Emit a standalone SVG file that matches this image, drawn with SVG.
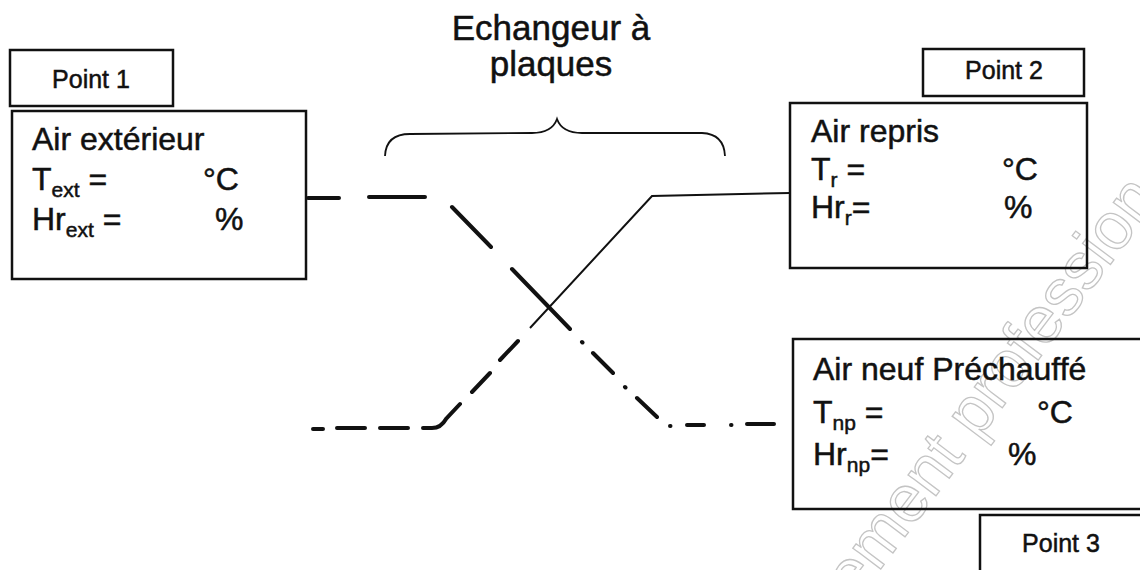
<svg xmlns="http://www.w3.org/2000/svg" width="1140" height="570" viewBox="0 0 1140 570">
  <style>
    text { font-family: "Liberation Sans", Arial, sans-serif; fill: #111; stroke: #111; stroke-width: 0.5; }
    .box { fill: none; stroke: #111; stroke-width: 2.5; }
    .lbl { font-size: 25px; }
    .val { font-size: 32px; }
    .sub { font-size: 21px; }
    .title { font-size: 35px; text-anchor: middle; }
    text.wm { font-size: 66px; fill: none; stroke: #c4c4c4; stroke-width: 1.3; }
    .dash { fill: none; stroke: #111; stroke-width: 4; stroke-linecap: round; }
    .solid { fill: none; stroke: #111; stroke-width: 2; }
    .brace { fill: none; stroke: #111; stroke-width: 1.8; }
  </style>
  <rect width="1140" height="570" fill="#fff"/>

  <!-- faint background stamp -->
  <text class="wm" transform="translate(856 602) rotate(-53)">ement profession</text>

  <!-- heat exchanger caption with brace -->
  <g id="exchanger">
    <text class="title" x="551" y="40">Echangeur à</text>
    <text class="title" x="551" y="76">plaques</text>
    <path class="brace" d="M385,156 Q386,134 410,134 L532,133 Q552,133 557,119 Q562,133 582,133 L702,133 Q724,134 725,156"/>
  </g>

  <!-- point 1 : outside air -->
  <g id="point1">
    <rect class="box" x="10" y="50" width="163" height="56"/>
    <text class="lbl" x="91" y="88" text-anchor="middle">Point 1</text>
  </g>
  <g id="air-exterieur">
    <rect class="box" x="12" y="111" width="294" height="168"/>
    <text class="val" x="32" y="150">Air extérieur</text>
    <text class="val" x="32" y="190">T<tspan class="sub" dy="7">ext</tspan><tspan dy="-7"> =</tspan></text>
    <text class="val" x="203" y="190">°C</text>
    <text class="val" x="32" y="230">Hr<tspan class="sub" dy="7">ext</tspan><tspan dy="-7"> =</tspan></text>
    <text class="val" x="215" y="230">%</text>
  </g>

  <!-- point 2 : return air -->
  <g id="point2">
    <rect class="box" x="923" y="49" width="161" height="47"/>
    <text class="lbl" x="1004" y="79" text-anchor="middle">Point 2</text>
  </g>
  <g id="air-repris">
    <rect class="box" x="790" y="103" width="297" height="165"/>
    <text class="val" x="811" y="142">Air repris</text>
    <text class="val" x="811" y="180">T<tspan class="sub" dy="7">r</tspan><tspan dy="-7"> =</tspan></text>
    <text class="val" x="1002" y="180">°C</text>
    <text class="val" x="811" y="218">Hr<tspan class="sub" dy="7">r</tspan><tspan dy="-7">=</tspan></text>
    <text class="val" x="1004" y="218">%</text>
  </g>

  <!-- point 3 : preheated fresh air -->
  <g id="air-neuf">
    <rect class="box" x="793" y="339" width="360" height="170"/>
    <text class="val" x="813" y="380">Air neuf Préchauffé</text>
    <text class="val" x="813" y="423">T<tspan class="sub" dy="7">np</tspan><tspan dy="-7"> =</tspan></text>
    <text class="val" x="1037" y="423">°C</text>
    <text class="val" x="813" y="465">Hr<tspan class="sub" dy="7">np</tspan><tspan dy="-7">=</tspan></text>
    <text class="val" x="1008" y="465">%</text>
  </g>
  <g id="point3">
    <rect class="box" x="980" y="515" width="170" height="70"/>
    <text class="lbl" x="1061" y="552" text-anchor="middle">Point 3</text>
  </g>

  <!-- air streams through the exchanger -->
  <g id="connectors">
    <!-- outside air to preheated air (dash-dot) -->
    <path class="dash" d="M308,198 L339,198 M369,197 L425,197 M452,207 L491,247 M512,269 L570,329 M582,342 L582.5,342.5 M593,353 L613,373 M625,387 L625.5,387.5 M637,398 L657,417 M670,426 L670.5,426 M687,425 L704,425 M731,425 L731.5,425 M747,424 L774,424"/>
    <!-- return air (solid then dashed) -->
    <path class="solid" d="M790,193 L652,196 L530,328"/>
    <path class="dash" stroke-width="3.5" d="M518,341 L500,360 M490,373 L472,392 M460,404 L446,419 Q441,428 432,428 L423,428 M408,428 L380,428 M365,428 L337,428 M323,429 L313,429"/>
  </g>
</svg>
